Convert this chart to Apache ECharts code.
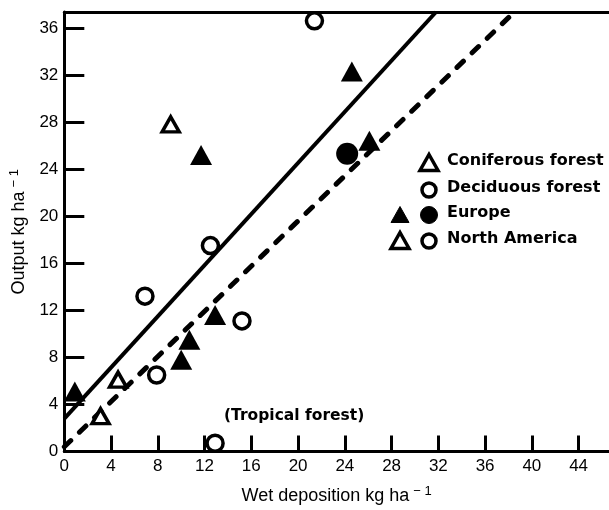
<!DOCTYPE html>
<html>
<head>
<meta charset="utf-8">
<script src="https://cdn.jsdelivr.net/npm/echarts@6/dist/echarts.min.js"></script>
<style>
  html, body { margin: 0; padding: 0; background: #fff; }
  #chart { width: 609px; height: 510px; }
</style>
</head>
<body>
<div id="chart"></div>
<script>
// tick labels
const xTicks = [0, 4, 8, 12, 16, 20, 24, 28, 32, 36, 40, 44];
const yTicks = [0, 4, 8, 12, 16, 20, 24, 28, 32, 36];

// [wet deposition, output] kg/ha
const europeConifer = [[0.9, 5.1], [10.0, 7.8], [10.7, 9.5], [12.9, 11.6], [11.7, 25.2], [24.6, 32.3], [26.1, 26.4]];
const europeDeciduous = [[24.2, 25.3]];
const naConifer = [[3.1, 3.0], [4.6, 6.1], [9.1, 27.8]];
const naDeciduous = [[21.4, 36.6], [12.5, 17.5], [6.9, 13.2], [7.9, 6.5], [15.2, 11.1], [12.9, 0.7]];

// regression lines (end points)
const fitSolid = [[0, 2.8], [31.8, 37.35]];
const fitDashed = [[0, 0.4], [38.5, 37.35]];

const legendLabels = ['Coniferous forest', 'Deciduous forest', 'Europe', 'North America'];

const chart = echarts.init(document.getElementById('chart'));

const axisFont = 'Liberation Sans, Arial, sans-serif';
const boldFont = 'DejaVu Sans, sans-serif';

// legend drawn as graphic shapes + text
function legendGraphics() {
  const rowsY = [163, 190, 215, 241];
  const colA = 400, colB = 429, textX = 447;
  const openStyle = { fill: '#fff', stroke: '#000', lineWidth: 3.5 };
  const fillStyle = { fill: '#000', stroke: '#000', lineWidth: 1 };
  const tri = (cx, cy, st) => ({
    type: 'polygon',
    shape: { points: [[cx, cy - 8.5], [cx + 9, cy + 7.5], [cx - 9, cy + 7.5]] },
    style: st,
  });
  const circ = (cx, cy, st) => ({
    type: 'circle',
    shape: { cx: cx, cy: cy, r: st === openStyle ? 7 : 8.5 },
    style: st,
  });
  const els = [
    tri(colB, rowsY[0], openStyle),
    circ(colB, rowsY[1], openStyle),
    tri(colA, rowsY[2], fillStyle),
    circ(colB, rowsY[2], fillStyle),
    tri(colA, rowsY[3], openStyle),
    circ(colB, rowsY[3], openStyle),
  ];
  legendLabels.forEach((t, i) => {
    els.push({
      type: 'text',
      left: textX,
      top: rowsY[i] - 10,
      style: { text: t, fill: '#000', font: 'bold 16px ' + boldFont, verticalAlign: 'top' },
    });
  });
  els.push({
    type: 'text',
    left: 224,
    top: 408,
    style: { text: '(Tropical forest)', fill: '#000', font: 'bold 15.5px ' + boldFont },
  });
  return els;
}

const option = {
  backgroundColor: '#fff',
  animation: false,
  grid: { left: 61, right: 0, top: 12, bottom: 55 },
  xAxis: [{
    type: 'value',
    min: 0,
    max: 46.6,
    position: 'bottom',
    name: 'Wet deposition kg ha{sup|− 1}',
    nameLocation: 'middle',
    nameGap: 33,
    nameTextStyle: {
      color: '#000', fontSize: 18, fontFamily: axisFont,
      rich: { sup: { fontSize: 13, fontFamily: axisFont, color: '#000', padding: [0, 0, 10, 4] } },
    },
    axisLine: { show: true, onZero: false, lineStyle: { color: '#000', width: 3 } },
    axisTick: { show: true, inside: true, length: 16, customValues: xTicks, lineStyle: { color: '#000', width: 3 } },
    axisLabel: { customValues: xTicks, color: '#000', fontSize: 17, fontFamily: axisFont, margin: 6 },
    splitLine: { show: false },
  }, {
    type: 'value',
    min: 0,
    max: 46.6,
    position: 'top',
    axisLine: { show: true, onZero: false, lineStyle: { color: '#000', width: 3 } },
    axisTick: { show: false },
    axisLabel: { show: false },
    splitLine: { show: false },
  }],
  yAxis: {
    type: 'value',
    min: 0,
    max: 37.35,
    name: 'Output kg ha{sup|− 1}',
    nameLocation: 'middle',
    nameGap: 33,
    nameTextStyle: {
      color: '#000', fontSize: 18, fontFamily: axisFont,
      rich: { sup: { fontSize: 13, fontFamily: axisFont, color: '#000', padding: [0, 0, 10, 4] } },
    },
    axisLine: { show: true, onZero: false, lineStyle: { color: '#000', width: 3 } },
    axisTick: { show: true, inside: true, length: 20, customValues: yTicks, lineStyle: { color: '#000', width: 3 } },
    axisLabel: { customValues: yTicks, color: '#000', fontSize: 17, fontFamily: axisFont, margin: 6 },
    splitLine: { show: false },
  },
  series: [
    {
      type: 'line', data: fitSolid, symbol: 'none', z: 2,
      lineStyle: { color: '#000', width: 4 },
    },
    {
      type: 'line', data: fitDashed, symbol: 'none', z: 2,
      lineStyle: { color: '#000', width: 5, type: [9, 12], cap: 'round' },
    },
    {
      name: 'Europe coniferous', type: 'scatter', data: europeConifer, z: 3,
      symbol: 'triangle', symbolSize: [22, 20],
      itemStyle: { color: '#000', opacity: 1 },
    },
    {
      name: 'Europe deciduous', type: 'scatter', data: europeDeciduous, z: 3,
      symbol: 'circle', symbolSize: 22,
      itemStyle: { color: '#000', opacity: 1 },
    },
    {
      name: 'North America coniferous', type: 'scatter', data: naConifer, z: 3,
      symbol: 'triangle', symbolSize: [17, 15],
      itemStyle: { color: '#fff', borderColor: '#000', borderWidth: 3.5, opacity: 1 },
    },
    {
      name: 'North America deciduous', type: 'scatter', data: naDeciduous, z: 3,
      symbol: 'circle', symbolSize: 16,
      itemStyle: { color: '#fff', borderColor: '#000', borderWidth: 3.5, opacity: 1 },
    },
  ],
  graphic: legendGraphics(),
};

chart.setOption(option);
</script>
</body>
</html>
